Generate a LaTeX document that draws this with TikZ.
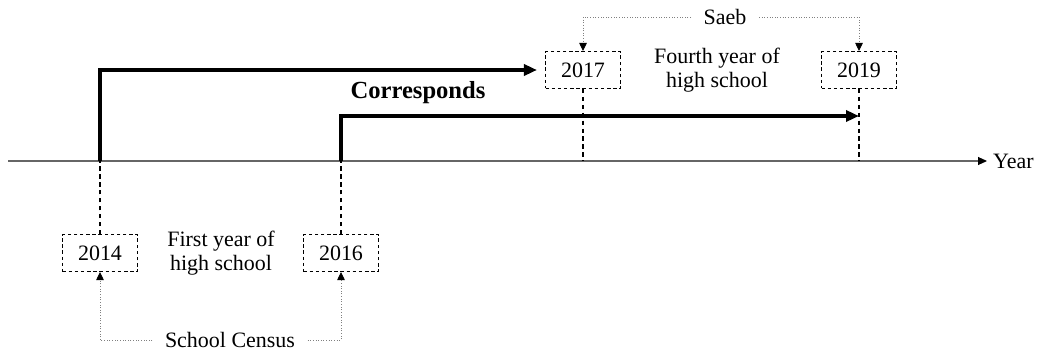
\documentclass[tikz,border=0pt]{standalone}
\usepackage{fontspec}
\setmainfont{Liberation Serif}
\usetikzlibrary{arrows.meta,calc}

\begin{document}
\begin{tikzpicture}[x=0.02cm,y=-0.02cm,
    yearbox/.style={draw, dash pattern=on 2pt off 1.5pt, line width=0.6pt,
        minimum width=1.5cm, minimum height=0.74cm, inner sep=0pt,
        font=\fontsize{12.5}{15}\selectfont},
    note/.style={align=center, font=\fontsize{12.5}{13.5}\selectfont},
    source/.style={font=\fontsize{12.5}{15}\selectfont, inner xsep=7pt},
    flow/.style={line width=2pt, -{Triangle[length=2.6mm,width=2.2mm]}},
    tick/.style={dash pattern=on 2.5pt off 2pt, line width=0.6pt},
    feed/.style={gray, densely dotted, line width=0.5pt, -{Triangle[length=1.6mm,width=1.5mm,fill=black,color=black]}}]
    \useasboundingbox (0,0) rectangle (1038,352);

    % time axis
    \coordinate (axL) at (8,161);
    \coordinate (axR) at (987,161);
    \draw[gray!80!black, line width=0.6pt, -{Triangle[length=1.8mm,width=1.6mm,color=black]}] (axL) -- (axR);
    \node[anchor=west, font=\fontsize{12.5}{15}\selectfont] (year) at (axR) {Year};

    \coordinate (t14) at (100,161);
    \coordinate (t16) at (341,161);
    \coordinate (t17) at (583,161);
    \coordinate (t19) at (859,161);

    % year boxes
    \node[yearbox] (b14) at (100,253) {2014};
    \node[yearbox] (b16) at (341,253) {2016};
    \node[yearbox] (b17) at (583,70) {2017};
    \node[yearbox] (b19) at (859,70) {2019};

    \draw[tick] (b14.north) -- (t14);
    \draw[tick] (b16.north) -- (t16);
    \draw[tick] (b17.south) -- (t17);
    \draw[tick] (b19.south) -- (t19);

    % correspondence
    \coordinate (e19) at (859,116);
    \draw[flow, shorten >=0.16cm] (t14) |- (b17.west);
    \draw[flow] (t16) |- (e19);
    \node[font=\fontsize{14}{16}\selectfont\bfseries] (corr) at (418,93) {Corresponds};

    \node[note] (first) at (221,253) {First year of\\high school};
    \node[note] (fourth) at (717,70) {Fourth year of\\high school};

    % data sources
    \node[source] (census) at (230,340) {School Census};
    \draw[feed] (census.west) -| (b14.south);
    \draw[feed] (census.east) -| (b16.south);
    \node[source] (saeb) at (725,17) {Saeb};
    \draw[feed] (saeb.west) -| (b17.north);
    \draw[feed] (saeb.east) -| (b19.north);
\end{tikzpicture}
\end{document}
